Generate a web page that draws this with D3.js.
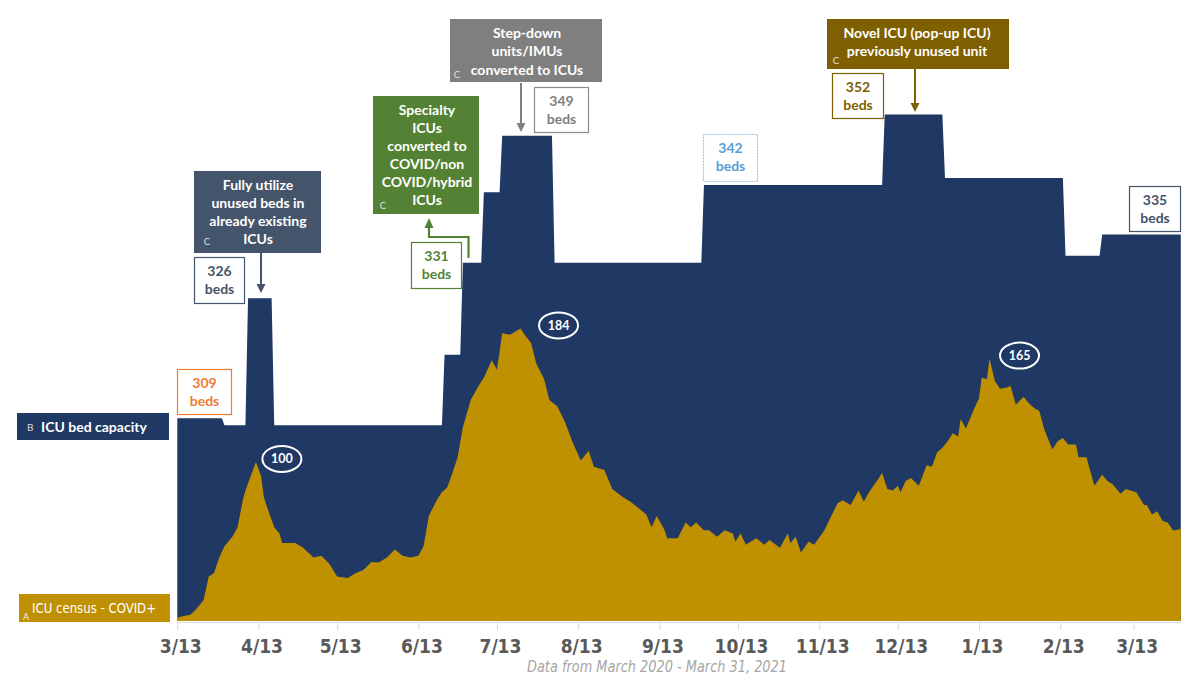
<!DOCTYPE html>
<html>
<head>
<meta charset="utf-8">
<script src="https://cdn.jsdelivr.net/npm/d3@7/dist/d3.min.js"></script>
<style>
  html, body { margin: 0; padding: 0; background: #ffffff; }
  svg { display: block; }
</style>
</head>
<body>
<svg id="chart" width="1200" height="694"></svg>
<script>
// ---------- DATA ----------
// day offsets from 2020-03-13
const censusDay = [0,2,5,7,10,12,14,16,18,21,23,25,26,28,30,32,33,35,37,39,40,45,48,52,55,58,61,65,68,71,74,77,80,83,86,89,92,94,96,99,101,103,105,107,109,112,115,117,120,122,124,127,131,133,135,137,140,142,145,148,151,154,157,159,163,166,170,173,176,179,181,183,186,187,191,194,196,198,201,203,206,209,212,213,215,217,221,224,226,230,233,234,236,238,241,243,247,249,252,254,257,260,262,264,267,269,271,273,275,276,278,280,283,286,288,290,292,294,296,298,299,301,304,306,307,309,310,312,314,317,318,320,323,325,327,329,331,334,336,338,340,343,344,347,350,353,355,357,360,362,366,369,370,372,374,376,378,380,381,383];
const censusCount = [2,3,4,7,13,28,30,40,47,53,59,76,82,91,100,91,78,68,59,55,49,49,46,40,41,36,28,27,30,32,37,37,40,45,41,40,41,47,66,76,81,84,93,103,122,139,148,153,164,158,181,180,184,179,175,162,152,139,135,125,112,101,107,97,95,83,78,75,71,67,59,66,57,52,52,62,59,62,57,57,53,57,55,50,55,48,52,48,51,46,55,49,53,43,50,48,57,64,74,76,73,82,75,81,88,93,83,82,85,81,88,90,85,98,97,106,109,113,118,116,127,121,133,140,153,152,165,151,146,147,148,136,141,137,134,132,120,108,113,115,111,111,103,103,85,92,88,86,80,83,81,73,73,67,69,63,62,57,57,58];

// ICU bed capacity levels: day offset where each level starts, and the level
const capStartDay = [0, 18, 27, 37, 102, 109, 117, 124, 144, 201, 270, 293, 339, 353];
const capBeds     = [309, 308, 326, 308, 318, 331, 341, 349, 331, 342, 352, 343, 332, 335];
const lastDay = 383; // 2021-03-31

const tickLabels = ["3/13","4/13","5/13","6/13","7/13","8/13","9/13","10/13","11/13","12/13","1/13","2/13","3/13"];
const peakDay = [30, 131, 310];
const peakValue = [100, 184, 165];
const bedLabels = [309, 326, 331, 349, 342, 352, 335];

// ---------- SETUP ----------
const svg = d3.select("#chart");
const DAY = 864e5;
const t0 = Date.UTC(2020, 2, 13);
const dayToDate = d => new Date(t0 + d * DAY);

const x = d3.scaleUtc().domain([dayToDate(0), dayToDate(lastDay)]).range([177.3, 1180.8]);
const yCap = d3.scaleLinear().domain([280.3, 368.2]).range([621, 0]);
const yCensus = d3.scaleLinear().domain([0, 390.5]).range([621, 0]);

// capacity daily series built from level table
const capSeries = d3.range(0, lastDay + 1).map(d => {
  let v = capBeds[0];
  for (let i = 0; i < capStartDay.length; i++) if (capStartDay[i] <= d) v = capBeds[i];
  return {date: dayToDate(d), v};
});
const censusSeries = censusDay.map((d, i) => ({date: dayToDate(d), v: censusCount[i]}));

const NAVY = "#203864", GOLD = "#bf9000";

svg.append("path").datum(capSeries)
  .attr("fill", NAVY)
  .attr("d", d3.area().x(d => x(d.date)).y0(yCap.range()[0]).y1(d => yCap(d.v)));

svg.append("path").datum(censusSeries)
  .attr("fill", GOLD)
  .attr("d", d3.area().x(d => x(d.date)).y0(yCensus(0)).y1(d => yCensus(d.v)));

// ---------- AXIS ----------
const tickDates = tickLabels.map((l, i) => new Date(Date.UTC(2020, 2 + i, 13)));
const axisG = svg.append("g").attr("transform", "translate(0,622)");
const axis = d3.axisBottom(x).tickValues(tickDates).tickFormat((d, i) => tickLabels[i]).tickSize(8).tickPadding(10);
axisG.call(axis);
axisG.select(".domain").attr("stroke", "#d9d9d9").attr("d", `M${x.range()[0]},0.5H${x.range()[1]}`);
axisG.selectAll(".tick line").attr("stroke", "#d9d9d9");
axisG.selectAll(".tick text")
  .attr("fill", "#595959")
  .attr("font-family", "'Liberation Sans Narrow','DejaVu Sans Condensed',sans-serif")
  .attr("font-weight", "bold")
  .attr("font-size", 19)
  .attr("dx", 3);

svg.append("text")
  .attr("x", 527).attr("y", 672)
  .attr("textLength", 260).attr("lengthAdjust", "spacingAndGlyphs")
  .attr("font-family", "'Liberation Sans Narrow','DejaVu Sans Condensed',sans-serif")
  .attr("font-style", "italic")
  .attr("font-size", 15)
  .attr("fill", "#a6a6a6")
  .text("Data from March 2020 - March 31, 2021");

// ---------- LEGEND LABELS ----------
const FONT = "Lato, 'Open Sans', sans-serif";
svg.append("rect").attr("x", 17).attr("y", 413).attr("width", 152).attr("height", 27).attr("fill", NAVY);
svg.append("text").attr("x", 27).attr("y", 431).attr("font-family", FONT).attr("font-size", 10).attr("fill", "#d9d9d9").text("B");
svg.append("text").attr("x", 41).attr("y", 432).attr("font-family", FONT).attr("font-weight", "bold").attr("font-size", 14).attr("fill", "#ffffff").text("ICU bed capacity");

svg.append("rect").attr("x", 19).attr("y", 594).attr("width", 151).attr("height", 28).attr("fill", GOLD);
svg.append("text").attr("x", 23).attr("y", 620).attr("font-family", FONT).attr("font-size", 9).attr("fill", "#f2f2f2").text("A");
svg.append("text").attr("x", 32).attr("y", 613)
  .attr("textLength", 124).attr("lengthAdjust", "spacingAndGlyphs")
  .attr("font-family", "'Liberation Sans Narrow','DejaVu Sans Condensed',sans-serif")
  .attr("font-size", 14).attr("fill", "#ffffff").text("ICU census - COVID+");

// ---------- ANNOTATION BOXES ----------
const boxes = [
  {x: 194, y: 171, w: 127, h: 82, fill: "#44546a", cx: 258, lines: ["Fully utilize","unused beds in","already existing","ICUs"], ly: [190, 208, 226, 244], c: [207, 245]},
  {x: 373, y: 96, w: 106, h: 118, fill: "#548235", cx: 427, lines: ["Specialty","ICUs","converted to","COVID/non","COVID/hybrid","ICUs"], ly: [115, 133, 151, 169, 187, 205], c: [383, 209]},
  {x: 450, y: 19, w: 152, h: 63, fill: "#7f7f7f", cx: 527, lines: ["Step-down","units/IMUs","converted to ICUs"], ly: [38, 56, 75], c: [457, 78]},
  {x: 827, y: 19, w: 182, h: 50, fill: "#7f6000", cx: 917, lines: ["Novel ICU (pop-up ICU)","previously unused unit"], ly: [38, 56], c: [836, 64]}
];
boxes.forEach(b => {
  svg.append("rect").attr("x", b.x).attr("y", b.y).attr("width", b.w).attr("height", b.h).attr("fill", b.fill);
  b.lines.forEach((l, i) => {
    svg.append("text").attr("x", b.cx).attr("y", b.ly[i]).attr("text-anchor", "middle")
      .attr("font-family", FONT).attr("font-weight", "bold").attr("font-size", 14).attr("fill", "#ffffff").text(l);
  });
  svg.append("text").attr("x", b.c[0]).attr("y", b.c[1]).attr("text-anchor", "middle")
    .attr("font-family", FONT).attr("font-size", 9.5).attr("fill", "#e0e0e0").text("C");
});

// ---------- BED LABEL BOXES ----------
const bedBoxes = [
  {x: 177, y: 369, w: 54, h: 45, color: "#ed7d31", text: "#ed7d31"},
  {x: 194, y: 257, w: 50, h: 46, color: "#44546a", text: "#44546a"},
  {x: 411, y: 242, w: 50, h: 46, color: "#548235", text: "#548235"},
  {x: 534, y: 87, w: 54, h: 45, color: "#8c8c8c", text: "#7f7f7f"},
  {x: 703, y: 134, w: 54, h: 47, color: "#9dc3e6", text: "#5b9bd5", dash: "2,1"},
  {x: 832, y: 73, w: 51, h: 45, color: "#7f6000", text: "#7f6000"},
  {x: 1129, y: 186, w: 51, h: 45, color: "#44546a", text: "#44546a"}
];
bedBoxes.forEach((b, i) => {
  svg.append("rect").attr("x", b.x + 0.5).attr("y", b.y + 0.5).attr("width", b.w).attr("height", b.h)
    .attr("fill", "#ffffff").attr("stroke", b.color).attr("stroke-width", 1.2)
    .attr("stroke-dasharray", b.dash || null);
  const cx = b.x + b.w / 2 + 0.5;
  svg.append("text").attr("x", cx).attr("y", b.y + 19).attr("text-anchor", "middle")
    .attr("font-family", FONT).attr("font-weight", "bold").attr("font-size", 14).attr("fill", b.text).text(bedLabels[i]);
  svg.append("text").attr("x", cx).attr("y", b.y + 37).attr("text-anchor", "middle")
    .attr("font-family", FONT).attr("font-weight", "bold").attr("font-size", 14).attr("fill", b.text).text("beds");
});

// ---------- ARROWS ----------
function arrowDown(xp, y1, y2, color) {
  svg.append("line").attr("x1", xp).attr("x2", xp).attr("y1", y1).attr("y2", y2 - 7).attr("stroke", color).attr("stroke-width", 2);
  svg.append("path").attr("d", `M${xp - 4.5},${y2 - 9}L${xp + 4.5},${y2 - 9}L${xp},${y2}Z`).attr("fill", color);
}
arrowDown(261, 253, 293, "#44546a");
arrowDown(521, 83, 132, "#7f7f7f");
arrowDown(915, 69, 112, "#7f6000");
// green elbow arrow
svg.append("path").attr("d", "M468.5,258V237H429V226").attr("fill", "none").attr("stroke", "#548235").attr("stroke-width", 2.2);
svg.append("path").attr("d", "M424.5,228L433.5,228L429,218Z").attr("fill", "#548235");

// ---------- PEAK ELLIPSES ----------
const peakDx = [26, 38, 30];
peakDay.forEach((d, i) => {
  const cx = x(dayToDate(d)) + peakDx[i];
  const cy = yCensus(peakValue[i]) - 3;
  svg.append("ellipse").attr("cx", cx).attr("cy", cy).attr("rx", 19.5).attr("ry", 13)
    .attr("fill", "none").attr("stroke", "#ffffff").attr("stroke-width", 2);
  svg.append("text").attr("x", cx).attr("y", cy + 4.5).attr("text-anchor", "middle")
    .attr("font-family", FONT).attr("font-weight", "bold").attr("font-size", 12.5).attr("fill", "#ffffff").text(peakValue[i]);
});
</script>
</body>
</html>
